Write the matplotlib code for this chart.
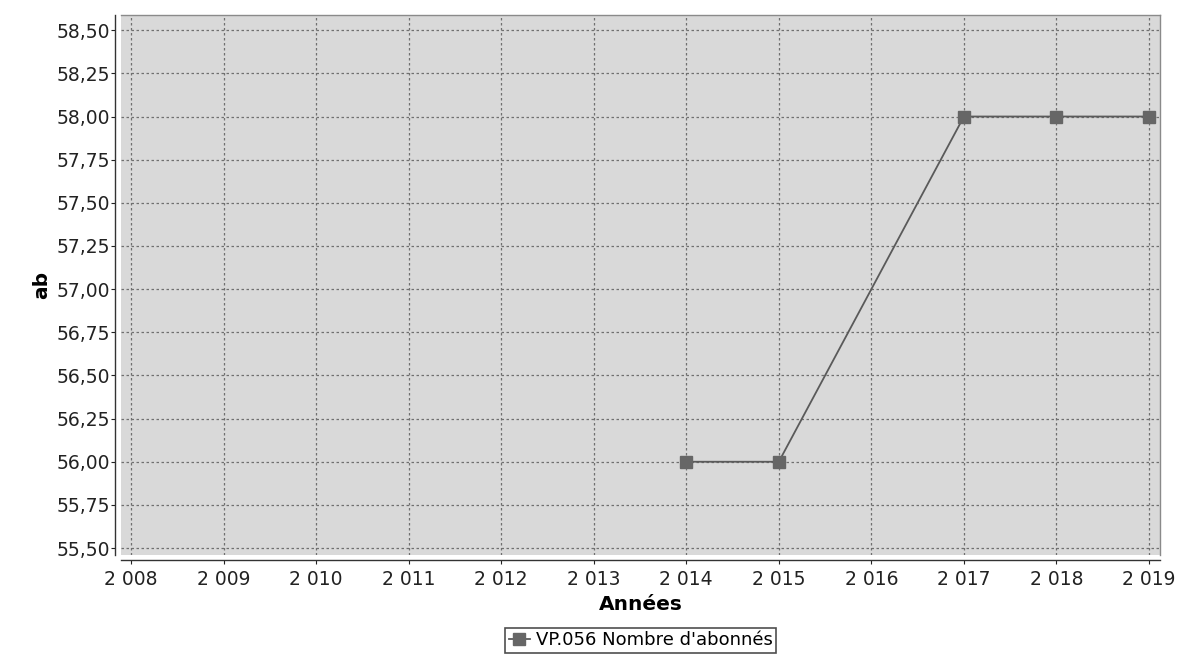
import matplotlib
matplotlib.use("Agg")
import matplotlib.pyplot as plt
from matplotlib.ticker import FixedLocator, FuncFormatter

years = [2014, 2015, 2017, 2018, 2019]
values = [56.0, 56.0, 58.0, 58.0, 58.0]
x_ticks = list(range(2008, 2020))
y_ticks = [55.5 + 0.25 * i for i in range(13)]
series_label = "VP.056 Nombre d'abonnés"

fig = plt.figure(figsize=(11.85, 6.67), dpi=100)
ax = fig.add_axes([0.102, 0.168, 0.877, 0.81])
ax.set_facecolor("#d9d9d9")

ax.plot(years, values, color="#5a5a5a", lw=1.3, marker="s", markersize=8,
        markerfacecolor="#666666", markeredgecolor="#666666", label=series_label)

ax.set_xlim(2007.89, 2019.12)
ax.set_ylim(55.46, 58.59)
ax.xaxis.set_major_locator(FixedLocator(x_ticks))
ax.yaxis.set_major_locator(FixedLocator(y_ticks))
ax.xaxis.set_major_formatter(FuncFormatter(lambda v, p: f"{int(round(v)):,}".replace(",", " ")))
ax.yaxis.set_major_formatter(FuncFormatter(lambda v, p: f"{v:.2f}".replace(".", ",")))

ax.grid(True, color="#707070", linestyle=(0, (2, 2)), linewidth=0.9)
ax.set_axisbelow(True)

for s in ax.spines.values():
    s.set_color("#8a8a8a")
    s.set_linewidth(1.0)
ax.spines["left"].set_position(("outward", 4))
ax.spines["bottom"].set_position(("outward", 4))
ax.spines["left"].set_color("#333333")
ax.spines["bottom"].set_color("#333333")

ax.tick_params(axis="both", labelsize=13.5, colors="#222222", length=3)
ax.tick_params(axis="y", pad=1)
ax.set_xlabel("Années", fontsize=14.5, fontweight="bold", labelpad=5)
ax.set_ylabel("ab", fontsize=14.5, fontweight="bold", labelpad=4)

leg = ax.legend(loc="upper center", bbox_to_anchor=(0.5, -0.135), frameon=True,
                fancybox=False, fontsize=13, handlelength=1.2, handletextpad=0.3,
                borderpad=0.2, borderaxespad=0)
leg.get_frame().set_edgecolor("#222222")
leg.get_frame().set_linewidth(1.2)

fig.savefig("out.png", dpi=100, facecolor="white")
